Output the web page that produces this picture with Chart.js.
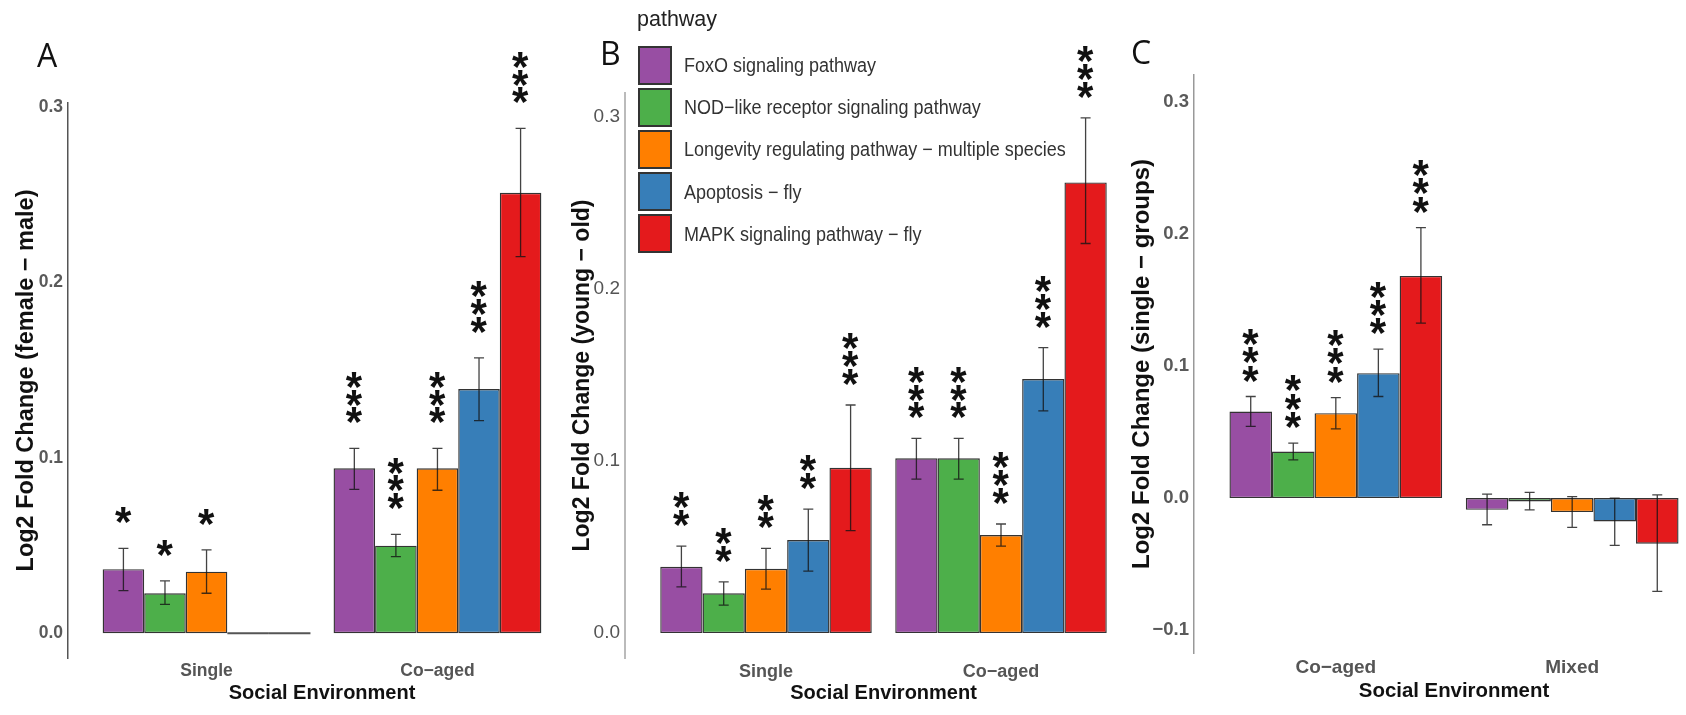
<!DOCTYPE html>
<html>
<head>
<meta charset="utf-8">
<script src="https://cdn.jsdelivr.net/npm/chart.js@4.4.1/dist/chart.umd.min.js"></script>
<style>
  html, body { margin:0; padding:0; background:#fff; }
  #wrap { position:relative; width:1686px; height:715px; overflow:hidden; background:#fff; }
  canvas { position:absolute; top:0; }
  .lbl { position:absolute; font-family:"Open Sans","Noto Sans",sans-serif; font-size:32px; line-height:32px; color:#111; }
  .lgTitle { position:absolute; font-family:"Liberation Sans",Arial,sans-serif; font-size:21.5px; line-height:21.5px; color:#222; }
  .lgBox { position:absolute; box-sizing:border-box; border:2px solid #333; width:34px; height:39px; }
  .lgText { position:absolute; font-family:"Liberation Sans",Arial,sans-serif; font-size:20px; line-height:20px; color:#333; white-space:nowrap; transform:scaleX(0.9); transform-origin:left center; }
</style>
</head>
<body>
<div id="wrap">
  <canvas id="cA" width="576" height="715" style="left:0px;width:576px;height:715px"></canvas>
  <canvas id="cB" width="602" height="715" style="left:540px;width:602px;height:715px"></canvas>
  <canvas id="cC" width="614" height="715" style="left:1100px;width:614px;height:715px"></canvas>
  <div class="lbl" style="left:37px;top:39px">A</div>
  <div class="lbl" style="left:600px;top:37px">B</div>
  <div class="lbl" style="left:1131px;top:36px">C</div>
  <div id="legend"></div>
</div>
<script>
// ---------------- DATA ----------------
const pathways = [
  'FoxO signaling pathway',
  'NOD\u2212like receptor signaling pathway',
  'Longevity regulating pathway \u2212 multiple species',
  'Apoptosis \u2212 fly',
  'MAPK signaling pathway \u2212 fly'
];
const legendTitle = 'pathway';

// Panel A : female - male
const catsA = ['Single', 'Co\u2212aged'];
const valsA_single = [0.0365, 0.0228, 0.0351, 0, 0];
const loA_single   = [0.0243, 0.0165, 0.0228, null, null];
const hiA_single   = [0.0484, 0.0298, 0.0475, null, null];
const starsA_single = ['*', '*', '*', '', ''];
const valsA_coaged = [0.0940, 0.0499, 0.0940, 0.1392, 0.2510];
const loA_coaged   = [0.0820, 0.0437, 0.0815, 0.1212, 0.2146];
const hiA_coaged   = [0.1054, 0.0564, 0.1054, 0.1570, 0.2877];
const starsA_coaged = ['***', '***', '***', '***', '***'];
const yTicksA = [0, 0.1, 0.2, 0.3];

// Panel B : young - old
const catsB = ['Single', 'Co\u2212aged'];
const valsB_single = [0.0385, 0.0231, 0.0374, 0.0541, 0.0961];
const loB_single   = [0.0269, 0.0163, 0.0256, 0.0360, 0.0595];
const hiB_single   = [0.0506, 0.0298, 0.0492, 0.0721, 0.1326];
const starsB_single = ['**', '**', '**', '**', '***'];
const valsB_coaged = [0.1016, 0.1016, 0.0570, 0.1477, 0.2620];
const loB_coaged   = [0.0895, 0.0895, 0.0506, 0.1292, 0.2265];
const hiB_coaged   = [0.1132, 0.1132, 0.0634, 0.1659, 0.2995];
const starsB_coaged = ['***', '***', '***', '***', '***'];
const yTicksB = [0, 0.1, 0.2, 0.3];

// Panel C : single - groups
const catsC = ['Co\u2212aged', 'Mixed'];
const valsC_coaged = [0.0656, 0.0353, 0.0644, 0.0947, 0.1684];
const loC_coaged   = [0.0543, 0.0290, 0.0525, 0.0770, 0.1326];
const hiC_coaged   = [0.0770, 0.0417, 0.0762, 0.1129, 0.2050];
const starsC_coaged = ['***', '***', '***', '***', '***'];
const valsC_mixed = [-0.0089, -0.0025, -0.0106, -0.0177, -0.0345];
const loC_mixed   = [-0.0202, -0.0089, -0.0222, -0.0359, -0.0707];
const hiC_mixed   = [0.0030, 0.0043, 0.0012, 0.0000, 0.0024];
const starsC_mixed = ['', '', '', '', ''];
const yTicksC = [-0.1, 0, 0.1, 0.2, 0.3];

// ---------------- STYLE ----------------
const colors = ['#984EA3', '#4DAF4A', '#FF7F00', '#377EB8', '#E41A1C'];
const FAMILY = '"Liberation Sans", Arial, Helvetica, sans-serif';
Chart.defaults.font.family = FAMILY;

const overlay = {
  id: 'overlay',
  afterDatasetsDraw(chart) {
    const o = chart.options.plugins.overlay;
    const ctx = chart.ctx;
    const ys = chart.scales.y;
    ctx.save();
    ctx.font = 'bold ' + o.starSize + 'px ' + FAMILY;
    const m = ctx.measureText('*');
    const gL = m.actualBoundingBoxLeft, gR = m.actualBoundingBoxRight, gD = m.actualBoundingBoxDescent;
    chart.data.datasets.forEach((ds, di) => {
      const meta = chart.getDatasetMeta(di);
      meta.data.forEach((bar, j) => {
        const v = ds.data[j].y;
        const cx = bar.x;
        const half = bar.width / 2;
        if (v === 0) {
          ctx.strokeStyle = '#555';
          ctx.lineWidth = 2;
          const y0 = ys.getPixelForValue(0);
          ctx.beginPath(); ctx.moveTo(cx - half, y0); ctx.lineTo(cx + half, y0); ctx.stroke();
        }
        const lo = ds.lo[j], hi = ds.hi[j];
        if (lo !== null && hi !== null) {
          const yl = ys.getPixelForValue(lo), yh = ys.getPixelForValue(hi);
          ctx.strokeStyle = o.errColor;
          ctx.lineWidth = 1.3;
          ctx.beginPath();
          ctx.moveTo(cx, yl); ctx.lineTo(cx, yh);
          ctx.moveTo(cx - 5, yl); ctx.lineTo(cx + 5, yl);
          ctx.moveTo(cx - 5, yh); ctx.lineTo(cx + 5, yh);
          ctx.stroke();
        }
        const st = ds.stars[j];
        if (st) {
          const top = ys.getPixelForValue(hi !== null ? hi : v);
          ctx.fillStyle = '#111';
          ctx.textAlign = 'left';
          ctx.textBaseline = 'alphabetic';
          for (let k = 0; k < st.length; k++) {
            const glyphBottom = top - o.starGap - k * o.starStep;
            const baseY = glyphBottom - gD;
            const x = cx - (gR - gL) / 2;
            ctx.fillText('*', x, baseY);
          }
        }
      });
    });
    ctx.restore();
  }
};

function buildDatasets(v1, lo1, hi1, s1, v2, lo2, hi2, s2) {
  return pathways.map((name, i) => ({
    label: name,
    data: [{x: 1, y: v1[i]}, {x: 2, y: v2[i]}],
    lo: [lo1[i], lo2[i]],
    hi: [hi1[i], hi2[i]],
    stars: [s1[i], s2[i]],
    backgroundColor: colors[i],
    borderColor: '#333',
    borderWidth: 1.4,
    borderSkipped: false,
    categoryPercentage: 0.9,
    barPercentage: 1.0
  }));
}

function makeChart(id, p) {
  const fmt = v => (v < 0 ? '\u2212' : '') + Math.abs(v).toFixed(1);
  return new Chart(document.getElementById(id), {
    type: 'bar',
    data: { datasets: p.datasets },
    plugins: [overlay],
    options: {
      responsive: false,
      animation: false,
      devicePixelRatio: 1,
      layout: { autoPadding: false, padding: { top: p.top, left: 0, right: 0, bottom: 0 } },
      plugins: {
        legend: { display: false },
        tooltip: { enabled: false },
        overlay: { starSize: p.starSize, starGap: p.starGap, starStep: p.starStep, errColor: p.errColor }
      },
      scales: {
        x: {
          type: 'linear',
          offset: false,
          min: 0.4, max: 2.6,
          grid: { display: false, drawTicks: false, offset: false },
          border: { display: false },
          afterBuildTicks: s => { s.ticks = p.cats.map((c, i) => ({ value: i + 1 })); },
          afterFit: s => { s.height = p.xH; },
          ticks: {
            padding: p.xTickPad,
            color: '#555',
            font: { size: p.xTickSize, weight: 'bold' },
            callback: v => p.cats[Math.round(v) - 1]
          },
          title: {
            display: true,
            text: 'Social Environment',
            color: '#111',
            font: { size: p.xTitleSize, weight: 'bold' },
            padding: { top: 0, bottom: p.xTitlePadB }
          }
        },
        y: {
          type: 'linear',
          min: p.ymin, max: p.ymax,
          grid: { display: false, drawTicks: false },
          border: { display: true, color: p.axisColor, width: p.axisWidth },
          afterBuildTicks: s => { s.ticks = p.yTicks.map(v => ({ value: v })); },
          afterFit: s => { s.width = p.yW; },
          ticks: {
            padding: 5,
            color: p.yTickColor,
            font: { size: p.yTickSize, weight: p.yTickWeight },
            callback: fmt
          },
          title: {
            display: true,
            text: p.yTitle,
            color: '#111',
            font: { size: p.yTitleSize, weight: 'bold' },
            padding: { top: p.yTitlePadT, bottom: 0 }
          }
        }
      }
    }
  });
}

makeChart('cA', {
  datasets: buildDatasets(valsA_single, loA_single, hiA_single, starsA_single, valsA_coaged, loA_coaged, hiA_coaged, starsA_coaged),
  cats: catsA, yTicks: yTicksA, ymin: -0.0141, ymax: 0.3022,
  top: 103, xH: 57, yW: 68,
  xTickPad: 3, xTickSize: 17.5, xTitleSize: 20, xTitlePadB: 10,
  yTickSize: 17.5, yTickWeight: 'bold', yTickColor: '#5a5a5a',
  yTitle: 'Log2 Fold Change (female \u2212 male)', yTitleSize: 23.5, yTitlePadT: 12.9,
  axisColor: '#555', axisWidth: 1.5,
  starSize: 42, starGap: 25, starStep: 17.8, errColor: 'rgba(20,20,20,0.8)'
});

makeChart('cB', {
  datasets: buildDatasets(valsB_single, loB_single, hiB_single, starsB_single, valsB_coaged, loB_coaged, hiB_coaged, starsB_coaged),
  cats: catsB, yTicks: yTicksB, ymin: -0.0145, ymax: 0.314,
  top: 93, xH: 57, yW: 85,
  xTickPad: 3, xTickSize: 18, xTitleSize: 20, xTitlePadB: 9.7,
  yTickSize: 19, yTickWeight: 'normal', yTickColor: '#555',
  yTitle: 'Log2 Fold Change (young \u2212 old)', yTitleSize: 23, yTitlePadT: 29,
  axisColor: '#bbb', axisWidth: 2,
  starSize: 42, starGap: 20, starStep: 17.8, errColor: 'rgba(20,20,20,0.8)'
});

makeChart('cC', {
  datasets: buildDatasets(valsC_coaged, loC_coaged, hiC_coaged, starsC_coaged, valsC_mixed, loC_mixed, hiC_mixed, starsC_mixed),
  cats: catsC, yTicks: yTicksC, ymin: -0.1174, ymax: 0.3207,
  top: 75, xH: 62, yW: 94,
  xTickPad: 3.6, xTickSize: 19, xTitleSize: 20.4, xTitlePadB: 11,
  yTickSize: 18.5, yTickWeight: 'bold', yTickColor: '#5a5a5a',
  yTitle: 'Log2 Fold Change (single \u2212 groups)', yTitleSize: 24, yTitlePadT: 27.6,
  axisColor: '#999', axisWidth: 1.5,
  starSize: 42, starGap: 15, starStep: 18.3, errColor: 'rgba(20,20,20,0.8)'
});

// ---------------- LEGEND (HTML) ----------------
(function () {
  const lg = document.getElementById('legend');
  const t = document.createElement('div');
  t.className = 'lgTitle';
  t.style.left = '637px'; t.style.top = '9px';
  t.textContent = legendTitle;
  lg.appendChild(t);
  pathways.forEach((name, i) => {
    const top = 45.7 + i * 42.1;
    const b = document.createElement('div');
    b.className = 'lgBox';
    b.style.left = '638px'; b.style.top = top + 'px';
    b.style.background = colors[i];
    lg.appendChild(b);
    const tx = document.createElement('div');
    tx.className = 'lgText';
    tx.style.left = '684px'; tx.style.top = (top + 19.5 - 10) + 'px';
    tx.textContent = name;
    lg.appendChild(tx);
  });
})();
</script>
</body>
</html>
